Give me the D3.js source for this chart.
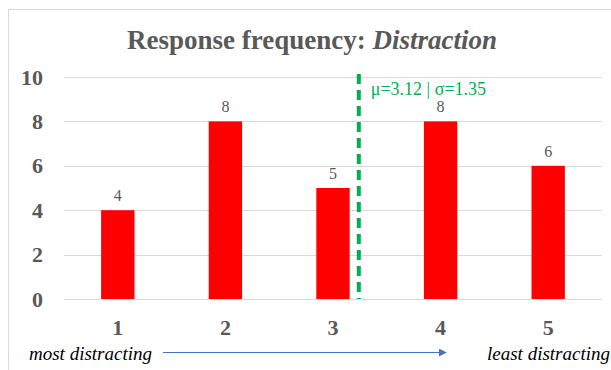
<!DOCTYPE html>
<html>
<head>
<meta charset="utf-8">
<script src="https://cdn.jsdelivr.net/npm/d3@7"></script>
<style>
  body { margin: 0; background: #fff; }
  svg text { font-family: "Liberation Serif", "Times New Roman", serif; }
</style>
</head>
<body>
<svg id="chart" width="611" height="370"></svg>
<script>
// data
var categories = ["1", "2", "3", "4", "5"];
var counts = [4, 8, 5, 8, 6];
var yTicks = [0, 2, 4, 6, 8, 10];
var meanLabel = "μ=3.12 | σ=1.35";
var meanLinePos = 3.24; // where the dashed line sits on the category axis in the picture
var leftNote = "most distracting";
var rightNote = "least distracting";

var svg = d3.select("#chart");

// chart frame (only top and left edges visible)
svg.append("path")
    .attr("d", "M8.5,370 V9.5 H611")
    .attr("fill", "none")
    .attr("stroke", "#d9d9d9")
    .attr("stroke-width", 1);

svg.append("text")
    .attr("x", 312)
    .attr("y", 49)
    .attr("text-anchor", "middle")
    .attr("font-size", 27)
    .attr("font-weight", "bold")
    .attr("fill", "#595959")
    .text("Response frequency: ")
    .append("tspan")
    .attr("font-style", "italic")
    .text("Distraction");

var xScale = d3.scaleBand()
    .domain(categories)
    .range([64, 602])
    .paddingInner(0.69)
    .paddingOuter(0.345);

var yScale = d3.scaleLinear()
    .domain([0, 10])
    .range([299, 77]);

// gridlines
svg.selectAll("line.grid")
    .data(yTicks)
    .enter()
    .append("line")
    .attr("class", "grid")
    .attr("x1", 64)
    .attr("x2", 602)
    .attr("y1", (d) => Math.round(yScale(d)) + 0.5)
    .attr("y2", (d) => Math.round(yScale(d)) + 0.5)
    .attr("stroke", "#d9d9d9")
    .attr("stroke-width", 1.2);

// y axis labels
var yAxis = d3.axisLeft(yScale)
    .tickValues(yTicks)
    .tickSize(0)
    .tickPadding(0);

var yg = svg.append("g")
    .attr("transform", "translate(43,0)")
    .call(yAxis);
yg.select(".domain").remove();
yg.selectAll("text")
    .attr("font-size", 22)
    .attr("font-weight", "bold")
    .attr("fill", "#595959");

// bars
svg.selectAll("rect.bar")
    .data(counts)
    .enter()
    .append("rect")
    .attr("class", "bar")
    .attr("x", (d, i) => xScale(categories[i]))
    .attr("y", (d) => yScale(d))
    .attr("width", xScale.bandwidth())
    .attr("height", (d) => yScale(0) - yScale(d))
    .attr("fill", "#ff0000");

// value labels
svg.selectAll("text.val")
    .data(counts)
    .enter()
    .append("text")
    .attr("class", "val")
    .attr("x", (d, i) => xScale(categories[i]) + xScale.bandwidth() / 2)
    .attr("y", (d) => yScale(d) - 9)
    .attr("text-anchor", "middle")
    .attr("font-size", 16)
    .attr("fill", "#595959")
    .text((d) => d);

// x axis labels
var xAxis = d3.axisBottom(xScale).tickSize(0).tickPadding(0);
var xg = svg.append("g")
    .attr("transform", "translate(0,319)")
    .call(xAxis);
xg.select(".domain").remove();
xg.selectAll("text")
    .attr("font-size", 22)
    .attr("font-weight", "bold")
    .attr("fill", "#595959");

// mean line
var posScale = d3.scaleLinear()
    .domain([1, 5])
    .range([xScale("1") + xScale.bandwidth() / 2, xScale("5") + xScale.bandwidth() / 2]);

svg.append("line")
    .attr("x1", posScale(meanLinePos))
    .attr("x2", posScale(meanLinePos))
    .attr("y1", 74)
    .attr("y2", 299)
    .attr("stroke", "#00b050")
    .attr("stroke-width", 4)
    .attr("stroke-dasharray", "10,6");

svg.append("text")
    .attr("x", posScale(meanLinePos) + 12)
    .attr("y", 95)
    .attr("font-size", 18)
    .attr("fill", "#00b050")
    .text(meanLabel);

// direction arrow and notes
svg.append("defs").append("marker")
    .attr("id", "arrow")
    .attr("viewBox", "0 0 10 10")
    .attr("refX", 9)
    .attr("refY", 5)
    .attr("markerWidth", 8)
    .attr("markerHeight", 8)
    .attr("markerUnits", "userSpaceOnUse")
    .attr("orient", "auto")
    .append("path")
    .attr("d", "M0,0 L10,5 L0,10 Z")
    .attr("fill", "#4472c4");

svg.append("line")
    .attr("x1", 163)
    .attr("x2", 446)
    .attr("y1", 352.5)
    .attr("y2", 352.5)
    .attr("stroke", "#4472c4")
    .attr("stroke-width", 1)
    .attr("marker-end", "url(#arrow)");

svg.append("text")
    .attr("x", 29)
    .attr("y", 360)
    .attr("font-size", 19)
    .attr("font-style", "italic")
    .attr("fill", "#000")
    .text(leftNote);

svg.append("text")
    .attr("x", 487)
    .attr("y", 360)
    .attr("font-size", 19)
    .attr("font-style", "italic")
    .attr("fill", "#000")
    .text(rightNote);
</script>
</body>
</html>
